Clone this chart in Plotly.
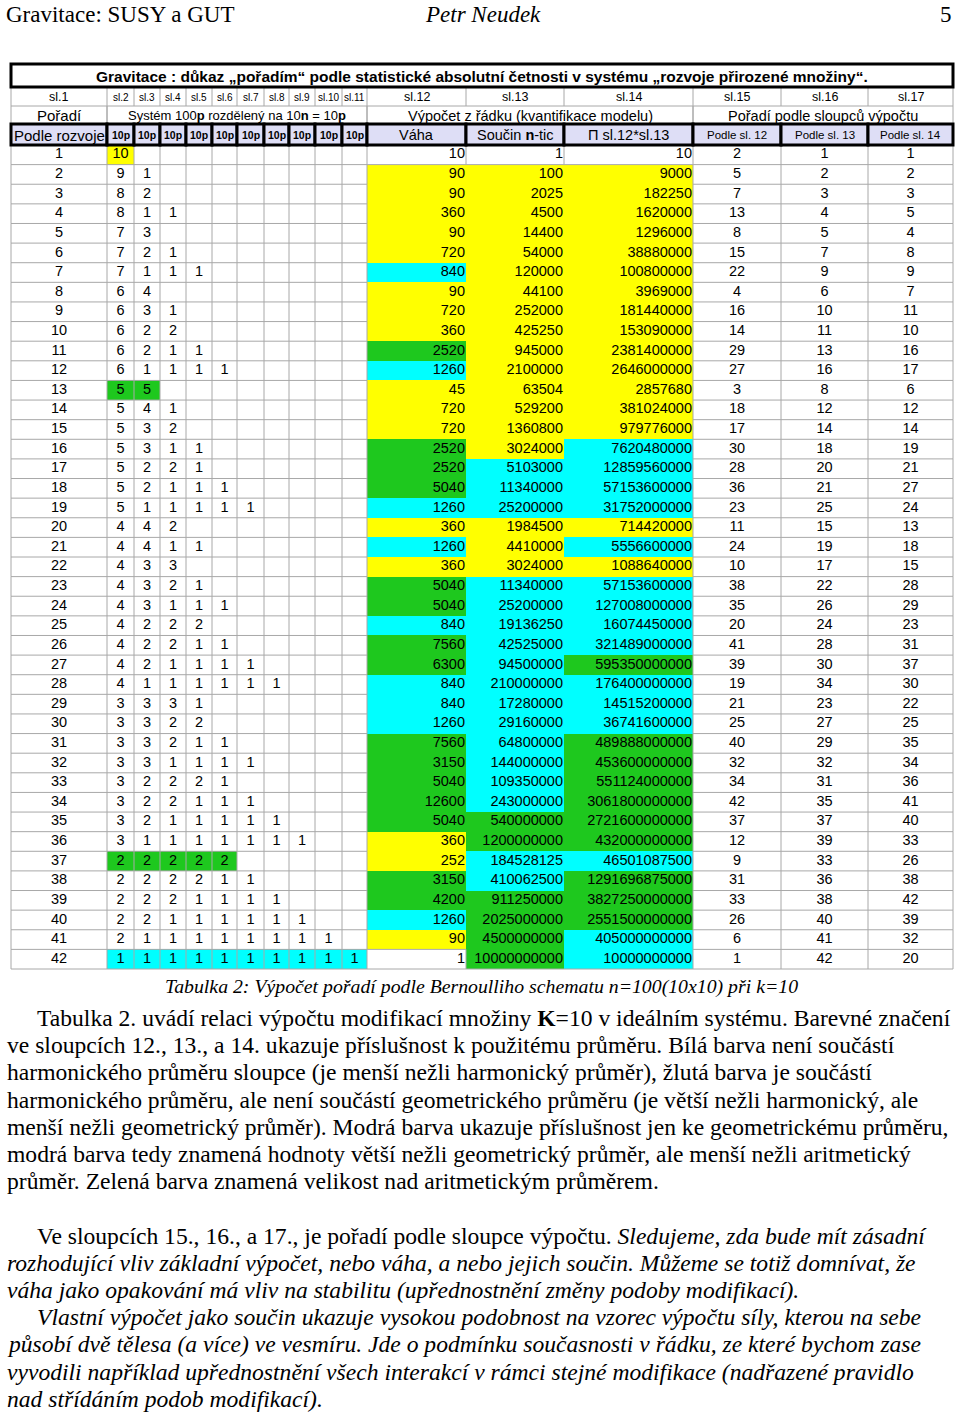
import plotly.graph_objects as go

# ---------------- DATA ----------------
rank = [1, 2, 3, 4, 5, 6, 7, 8, 9, 10, 11, 12, 13, 14, 15, 16, 17, 18, 19, 20, 21,
        22, 23, 24, 25, 26, 27, 28, 29, 30, 31, 32, 33, 34, 35, 36, 37, 38, 39, 40, 41, 42]

partitions = [
    [10], [9, 1], [8, 2], [8, 1, 1], [7, 3], [7, 2, 1], [7, 1, 1, 1], [6, 4], [6, 3, 1],
    [6, 2, 2], [6, 2, 1, 1], [6, 1, 1, 1, 1], [5, 5], [5, 4, 1], [5, 3, 2], [5, 3, 1, 1],
    [5, 2, 2, 1], [5, 2, 1, 1, 1], [5, 1, 1, 1, 1, 1], [4, 4, 2], [4, 4, 1, 1], [4, 3, 3],
    [4, 3, 2, 1], [4, 3, 1, 1, 1], [4, 2, 2, 2], [4, 2, 2, 1, 1], [4, 2, 1, 1, 1, 1],
    [4, 1, 1, 1, 1, 1, 1], [3, 3, 3, 1], [3, 3, 2, 2], [3, 3, 2, 1, 1], [3, 3, 1, 1, 1, 1],
    [3, 2, 2, 2, 1], [3, 2, 2, 1, 1, 1], [3, 2, 1, 1, 1, 1, 1], [3, 1, 1, 1, 1, 1, 1, 1],
    [2, 2, 2, 2, 2], [2, 2, 2, 2, 1, 1], [2, 2, 2, 1, 1, 1, 1], [2, 2, 1, 1, 1, 1, 1, 1],
    [2, 1, 1, 1, 1, 1, 1, 1, 1], [1, 1, 1, 1, 1, 1, 1, 1, 1, 1],
]

vaha = [10, 90, 90, 360, 90, 720, 840, 90, 720, 360, 2520, 1260, 45, 720, 720, 2520, 2520,
        5040, 1260, 360, 1260, 360, 5040, 5040, 840, 7560, 6300, 840, 840, 1260, 7560, 3150,
        5040, 12600, 5040, 360, 252, 3150, 4200, 1260, 90, 1]

soucin = [1, 100, 2025, 4500, 14400, 54000, 120000, 44100, 252000, 425250, 945000, 2100000,
          63504, 529200, 1360800, 3024000, 5103000, 11340000, 25200000, 1984500, 4410000,
          3024000, 11340000, 25200000, 19136250, 42525000, 94500000, 210000000, 17280000,
          29160000, 64800000, 144000000, 109350000, 243000000, 540000000, 1200000000,
          184528125, 410062500, 911250000, 2025000000, 4500000000, 10000000000]

pi_12_13 = [10, 9000, 182250, 1620000, 1296000, 38880000, 100800000, 3969000, 181440000,
            153090000, 2381400000, 2646000000, 2857680, 381024000, 979776000, 7620480000,
            12859560000, 57153600000, 31752000000, 714420000, 5556600000, 1088640000,
            57153600000, 127008000000, 16074450000, 321489000000, 595350000000,
            176400000000, 14515200000, 36741600000, 489888000000, 453600000000,
            551124000000, 3061800000000, 2721600000000, 432000000000, 46501087500,
            1291696875000, 3827250000000, 2551500000000, 405000000000, 10000000000]

rank_12 = [2, 5, 7, 13, 8, 15, 22, 4, 16, 14, 29, 27, 3, 18, 17, 30, 28, 36, 23, 11, 24, 10,
           38, 35, 20, 41, 39, 19, 21, 25, 40, 32, 34, 42, 37, 12, 9, 31, 33, 26, 6, 1]
rank_13 = [1, 2, 3, 4, 5, 7, 9, 6, 10, 11, 13, 16, 8, 12, 14, 18, 20, 21, 25, 15, 19, 17,
           22, 26, 24, 28, 30, 34, 23, 27, 29, 32, 31, 35, 37, 39, 33, 36, 38, 40, 41, 42]
rank_14 = [1, 2, 3, 5, 4, 8, 9, 7, 11, 10, 16, 17, 6, 12, 14, 19, 21, 27, 24, 13, 18, 15,
           28, 29, 23, 31, 37, 30, 22, 25, 35, 34, 36, 41, 40, 33, 26, 38, 42, 39, 32, 20]

# colour class per row (W white, Y yellow, C cyan, G green)
class_parts = "Y-----------G-----------------------G----C"
class_12 = "WYYYYYCYYYGCYYYGGGCYCYGGCGGCCCGGGGGYYGGCYW"
class_13 = "WYYYYYYYYYYYYYYYCCCYYYCCCCCCCCCCCCGGCCGGGG"
class_14 = "WYYYYYYYYYYYYYYCCCCYCYCCCCGCCCGGGGGGCGGGCC"

title_text = "Gravitace : důkaz „pořadím“ podle statistické absolutní četnosti v systému „rozvoje přirozené množiny“."
hdr_sl = ["sl.1", "sl.2", "sl.3", "sl.4", "sl.5", "sl.6", "sl.7", "sl.8", "sl.9", "sl.10",
          "sl.11", "sl.12", "sl.13", "sl.14", "sl.15", "sl.16", "sl.17"]
hdr_group = ["Pořadí", "Systém 100<b>p</b> rozdělený na 10<b>n</b> = 10<b>p</b>",
             "Výpočet z řádku (kvantifikace modelu)", "Pořadí podle sloupců výpočtu"]
hdr_sub = ["Podle rozvoje", "10p", "10p", "10p", "10p", "10p", "10p", "10p", "10p", "10p",
           "10p", "Váha", "Součin <b>n</b>-tic", "Π sl.12*sl.13", "Podle sl. 12",
           "Podle sl. 13", "Podle sl. 14"]

page_left = "Gravitace: SUSY a GUT"
page_mid = "Petr Neudek"
page_num = "5"
caption = "Tabulka 2: Výpočet pořadí podle Bernoulliho schematu n=100(10x10) při k=10"
paragraph_lines = [
    ("Tabulka 2. uvádí relaci výpočtu modifikací množiny <b>K</b>=10 v ideálním systému. Barevné značení", True),
    ("ve sloupcích 12., 13., a 14. ukazuje příslušnost k použitému průměru. Bílá barva není součástí", False),
    ("harmonického průměru sloupce (je menší nežli harmonický průměr), žlutá barva je součástí", False),
    ("harmonického průměru, ale není součástí geometrického průměru (je větší nežli harmonický, ale", False),
    ("menší nežli geometrický průměr). Modrá barva ukazuje příslušnost jen ke geometrickému průměru,", False),
    ("modrá barva tedy znamená hodnoty větší nežli geometrický průměr, ale menší nežli aritmetický", False),
    ("průměr. Zelená barva znamená velikost nad aritmetickým průměrem.", False),
    ("", False),
    ("Ve sloupcích 15., 16., a 17., je pořadí podle sloupce výpočtu. <i>Sledujeme, zda bude mít zásadní</i>", True),
    ("<i>rozhodující vliv základní výpočet, nebo váha, a nebo jejich součin. Můžeme se totiž domnívat, že</i>", False),
    ("<i>váha jako opakování má vliv na stabilitu (upřednostnění změny podoby modifikací).</i>", False),
    ("<i>Vlastní výpočet jako součin ukazuje vysokou podobnost na vzorec výpočtu síly, kterou na sebe</i>", True),
    ("<i>působí dvě tělesa (a více) ve vesmíru. Jde o podmínku současnosti v řádku, ze které bychom zase</i>", False),
    ("<i>vyvodili například upřednostnění všech interakcí v rámci stejné modifikace (nadřazené pravidlo</i>", False),
    ("<i>nad střídáním podob modifikací).</i>", False),
]

# ---------------- LAYOUT / STYLE ----------------
W, H = 960, 1415
col_edges = [11, 107, 134, 160, 186, 212, 237, 264, 289, 315, 342, 367, 466, 564, 693, 781, 868, 953]
NCOL = 17
NROW = len(rank)
TITLE_TOP, TITLE_BOT = 64, 87
SL_BOT = 106
GRP_BOT = 124
SUB_BOT = 145
DATA_TOP, DATA_BOT = 145, 969
row_h = (DATA_BOT - DATA_TOP) / NROW
row_edges = [DATA_TOP + i * row_h for i in range(NROW + 1)]
row_mid = [DATA_TOP + (i + 0.5) * row_h for i in range(NROW)]
col_mid = [(col_edges[j] + col_edges[j + 1]) / 2 for j in range(NCOL)]

COLORS = {"W": "#ffffff", "Y": "#ffff00", "C": "#00ffff", "G": "#1ec81e"}
CODE = {"W": 0, "-": 0, "Y": 1, "C": 2, "G": 3}
GRID = "#a8a8a8"
LAV = "#dedef6"
SANS = "Liberation Sans, Arial, sans-serif"
SERIF = "Liberation Serif, Times New Roman, serif"
DATA_FONT = 14.5
PAR_FONT = 23.6

# class matrix
cls = []
for i in range(NROW):
    row = []
    for j in range(NCOL):
        if 1 <= j <= 10:
            c = class_parts[i] if (j - 1) < len(partitions[i]) else "W"
            row.append("W" if c == "-" else c)
        elif j == 11:
            row.append(class_12[i])
        elif j == 12:
            row.append(class_13[i])
        elif j == 13:
            row.append(class_14[i])
        else:
            row.append("W")
    cls.append(row)
z = [[CODE[c] for c in row] for row in cls]

fig = go.Figure()

fig.add_trace(go.Heatmap(
    z=z, x=col_edges, y=row_edges, zmin=0, zmax=3,
    colorscale=[[0, COLORS["W"]], [1 / 3, COLORS["Y"]], [2 / 3, COLORS["C"]], [1, COLORS["G"]]],
    showscale=False, hoverinfo="skip",
))

# grid lines for data region
gx, gy = [], []
def calc_col(j):
    return 11 <= j <= 13
for k in range(NROW + 1):
    for j in range(NCOL):
        if 0 < k < NROW and calc_col(j) and cls[k - 1][j] != "W" and cls[k][j] != "W":
            continue
        gx += [col_edges[j], col_edges[j + 1], None]
        gy += [row_edges[k], row_edges[k], None]
for b in range(NCOL + 1):
    for i in range(NROW):
        if 0 < b < NCOL and calc_col(b - 1) and calc_col(b) and cls[i][b - 1] != "W" and cls[i][b] != "W":
            continue
        gx += [col_edges[b], col_edges[b], None]
        gy += [row_edges[i], row_edges[i + 1], None]
fig.add_trace(go.Scatter(x=gx, y=gy, mode="lines", line=dict(color=GRID, width=1),
                         hoverinfo="skip", showlegend=False))

tf = dict(family=SANS, size=DATA_FONT, color="black")

# rank column
fig.add_trace(go.Scatter(x=[col_mid[0]] * NROW, y=row_mid, mode="text",
                         text=[str(v) for v in rank], textposition="middle center",
                         textfont=tf, hoverinfo="skip", showlegend=False))
# partition columns
px_, py_, pt_ = [], [], []
for i, parts in enumerate(partitions):
    for k, v in enumerate(parts):
        px_.append(col_mid[1 + k]); py_.append(row_mid[i]); pt_.append(str(v))
fig.add_trace(go.Scatter(x=px_, y=py_, mode="text", text=pt_, textposition="middle center",
                         textfont=tf, hoverinfo="skip", showlegend=False))
# right-aligned calculation columns
for j, vals in zip([11, 12, 13], [vaha, soucin, pi_12_13]):
    fig.add_trace(go.Scatter(x=[col_edges[j + 1] - 1] * NROW, y=row_mid, mode="text",
                             text=[str(v) for v in vals], textposition="middle left",
                             textfont=tf, hoverinfo="skip", showlegend=False))
# rank columns
for j, vals in zip([14, 15, 16], [rank_12, rank_13, rank_14]):
    fig.add_trace(go.Scatter(x=[col_mid[j]] * NROW, y=row_mid, mode="text",
                             text=[str(v) for v in vals], textposition="middle center",
                             textfont=tf, hoverinfo="skip", showlegend=False))

shapes = []
ann = []

# header row B (sl.) and C grid
for b in range(NCOL + 1):
    shapes.append(dict(type="line", x0=col_edges[b], x1=col_edges[b], y0=TITLE_BOT, y1=SL_BOT,
                       line=dict(color=GRID, width=1)))
shapes.append(dict(type="line", x0=col_edges[0], x1=col_edges[-1], y0=SL_BOT, y1=SL_BOT,
                   line=dict(color=GRID, width=1)))
group_spans = [(0, 1), (1, 11), (11, 14), (14, 17)]
for (a, b) in group_spans:
    for e in (a, b):
        shapes.append(dict(type="line", x0=col_edges[e], x1=col_edges[e], y0=SL_BOT, y1=GRP_BOT,
                           line=dict(color=GRID, width=1)))
# row D cells with thick borders
for j in range(NCOL):
    shapes.append(dict(type="rect", x0=col_edges[j], x1=col_edges[j + 1], y0=GRP_BOT, y1=SUB_BOT,
                       fillcolor=LAV, line=dict(color="black", width=3)))
# title box
shapes.append(dict(type="rect", x0=col_edges[0], x1=col_edges[-1], y0=TITLE_TOP, y1=TITLE_BOT,
                   fillcolor="white", line=dict(color="black", width=3)))

ann.append(dict(x=(col_edges[0] + col_edges[-1]) / 2, y=(TITLE_TOP + TITLE_BOT) / 2 + 0.5,
                text="<b>" + title_text + "</b>", showarrow=False, xanchor="center", yanchor="middle",
                font=dict(family=SANS, size=15.5, color="black")))
for j, t in enumerate(hdr_sl):
    fs = 10 if 1 <= j <= 10 else 12.5
    ann.append(dict(x=col_mid[j], y=(TITLE_BOT + SL_BOT) / 2 + 0.5, text=t, showarrow=False,
                    xanchor="center", yanchor="middle", font=dict(family=SANS, size=fs, color="black")))
grp_fs = [15, 13, 14.5, 14.5]
for (a, b), t, fs in zip(group_spans, hdr_group, grp_fs):
    ann.append(dict(x=(col_edges[a] + col_edges[b]) / 2, y=(SL_BOT + GRP_BOT) / 2 + 0.5, text=t,
                    showarrow=False, xanchor="center", yanchor="middle",
                    font=dict(family=SANS, size=fs, color="black")))
for j, t in enumerate(hdr_sub):
    if j == 0:
        fs = 15
    elif j <= 10:
        fs = 10.5
        t = "<b>" + t + "</b>"
    elif j <= 13:
        fs = 14.5
    else:
        fs = 11.5
    ann.append(dict(x=col_mid[j], y=(GRP_BOT + SUB_BOT) / 2 + 0.5, text=t, showarrow=False,
                    xanchor="center", yanchor="middle", font=dict(family=SANS, size=fs, color="black")))

# page header
HDR_FONT = 23
ann.append(dict(x=4, y=0, text=page_left, showarrow=False, xanchor="left", yanchor="top",
                font=dict(family=SERIF, size=HDR_FONT, color="black")))
ann.append(dict(x=483, y=0, text="<i>" + page_mid + "</i>", showarrow=False, xanchor="center",
                yanchor="top", font=dict(family=SERIF, size=HDR_FONT, color="black")))
ann.append(dict(x=954, y=0, text=page_num, showarrow=False, xanchor="right", yanchor="top",
                font=dict(family=SERIF, size=HDR_FONT, color="black")))

# caption
ann.append(dict(x=481, y=986, text="<i>" + caption + "</i>", showarrow=False, xanchor="center",
                yanchor="middle", font=dict(family=SERIF, size=19.8, color="black")))

# paragraph
PAR_TOP = 1018
LINE_H = 27.2
for i, (t, indent) in enumerate(paragraph_lines):
    if not t:
        continue
    ann.append(dict(x=35 if indent else 5, y=PAR_TOP + i * LINE_H, text=t, showarrow=False,
                    xanchor="left", yanchor="middle", font=dict(family=SERIF, size=PAR_FONT, color="black")))

fig.update_layout(
    width=W, height=H, margin=dict(l=0, r=0, t=0, b=0),
    paper_bgcolor="white", plot_bgcolor="white",
    xaxis=dict(range=[0, W], visible=False, fixedrange=True),
    yaxis=dict(range=[H, 0], visible=False, fixedrange=True),
    shapes=shapes, annotations=ann, showlegend=False, hovermode=False,
)

fig.write_html("out.html", config={"displayModeBar": False},
               post_script="document.body.style.margin='0';document.body.style.overflow='hidden';")
